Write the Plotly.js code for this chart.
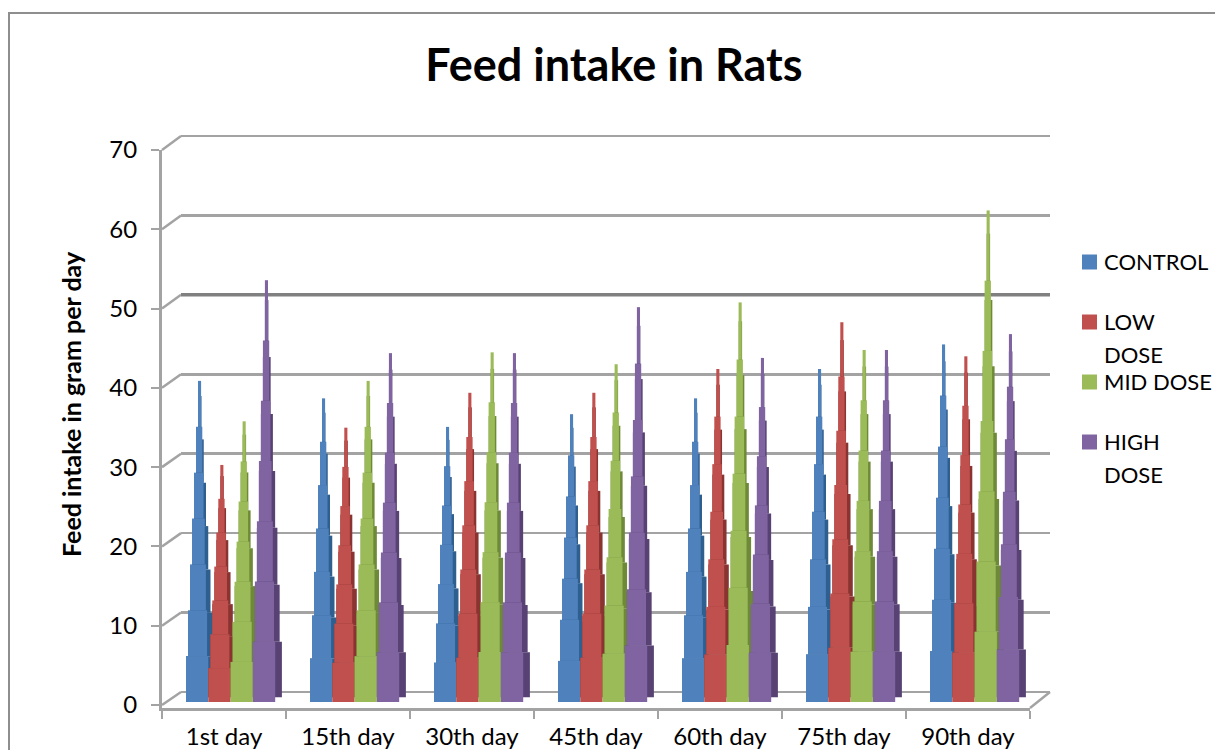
<!DOCTYPE html>
<html>
<head>
<meta charset="utf-8">
<title>Feed intake in Rats</title>
<script src="https://cdn.plot.ly/plotly-3.0.1.min.js"></script>
<style>html,body{margin:0;padding:0;background:#fff}#chart{width:1215px;height:750px}</style>
</head>
<body>
<div id="chart"></div>
<script>
// Feed intake, gram per day
const days = ['1st day','15th day','30th day','45th day','60th day','75th day','90th day'];
const control  = [40.5, 38.3, 34.7, 36.3, 38.3, 42.0, 45.1];
const lowDose  = [29.9, 34.6, 39.0, 39.0, 42.0, 47.9, 43.6];
const midDose  = [35.4, 40.5, 44.1, 42.6, 50.4, 44.4, 62.0];
const highDose = [53.2, 44.0, 44.0, 49.8, 43.4, 44.4, 46.4];

const seriesNames = ['CONTROL','LOW DOSE','MID DOSE','HIGH DOSE'];
const seriesValues = [control, lowDose, midDose, highDose];
const frontColors = ['#4F81BD','#C0504D','#9BBB59','#8064A2'];
const sideColors  = ['#2F5F8F','#8A3432','#6E8A38','#574273'];

const W = 1215, H = 750;
const xd = px => px / W;
const yd = py => 1 - py / H;

// Pixel geometry of the pseudo-3D box
const FRONT_LEFT = 162, FRONT_RIGHT = 1030, FRONT_ZERO = 705, FRONT_BOTTOM = 708, FRONT_TOP = 150;
const BACK_LEFT = 181, BACK_RIGHT = 1050, BACK_ZERO = 692, BACK_TOP = 136;
const BAR_ZERO = 702;
const PX_PER_UNIT = (FRONT_ZERO - FRONT_TOP) / 70;
const BACK_PX_PER_UNIT = (BACK_ZERO - BACK_TOP) / 70;
const CAT_PX = (FRONT_RIGHT - FRONT_LEFT) / days.length;

// Stepped pyramid profile, in pixels from each bar's left edge
const STEPS = 7;
const SERIES_START = 24, SERIES_PITCH = 22.3;
const frontLeft  = k => 2 * k;
const frontRight = k => 22.3 - 1.2 * k;
const sideRight  = k => 29 - 2.25 * k;
const sideLevel  = k => k === 0 ? 0 : 1 / STEPS + (k - 1) * 0.135;

function stepTraces(values, s) {
  const front = {x: [], y: [], base: [], width: [], offset: []};
  const side  = {x: [], y: [], base: [], width: [], offset: []};
  days.forEach((day, c) => {
    const barLeft = SERIES_START + s * SERIES_PITCH - CAT_PX / 2;
    for (let k = 0; k < STEPS; k++) {
      front.x.push(day);
      front.base.push(values[c] * k / STEPS);
      front.y.push(values[c] / STEPS);
      front.offset.push((barLeft + frontLeft(k)) / CAT_PX);
      front.width.push((frontRight(k) - frontLeft(k)) / CAT_PX);

      const lo = k === 0 ? 0.6 : values[c] * sideLevel(k);
      const hi = values[c] * sideLevel(k + 1);
      side.x.push(day);
      side.base.push(lo);
      side.y.push(hi - lo);
      side.offset.push((barLeft + frontLeft(k)) / CAT_PX);
      side.width.push((sideRight(k) - frontLeft(k)) / CAT_PX);
    }
  });
  const common = {type: 'bar', xaxis: 'x2', yaxis: 'y3', name: seriesNames[s], showlegend: false, hoverinfo: 'skip'};
  return [
    Object.assign({}, common, side,  {marker: {color: sideColors[s],  line: {width: 0}}}),
    Object.assign({}, common, front, {marker: {color: frontColors[s], line: {width: 0}}})
  ];
}

const traces = [
  // the heavier 50 line on the back wall, which also creates the wall subplot
  {type: 'scatter', mode: 'lines', x: [0, 1], y: [50, 50], xaxis: 'x', yaxis: 'y', showlegend: false, hoverinfo: 'skip',
   line: {color: '#808080', width: 3.5}},
  // empty carrier for the front subplot
  {type: 'scatter', mode: 'none', x: days, y: days.map(() => 0), xaxis: 'x2', yaxis: 'y2', showlegend: false, hoverinfo: 'skip'}
];
seriesValues.forEach((v, s) => traces.push(...stepTraces(v, s)));

const GREY = '#A3A3A3';
const shapes = [];
const annotations = [];

// Chart frame, open on the right
shapes.push({type: 'path', xref: 'paper', yref: 'paper',
  path: `M ${xd(W)} ${yd(13)} L ${xd(9)} ${yd(13)} L ${xd(9)} ${yd(H)}`,
  line: {color: '#8E8E8E', width: 2}});

// Side wall connectors from the value axis to the back wall
for (let v = 0; v <= 70; v += 10) {
  shapes.push({type: 'line', xref: 'paper', yref: 'paper', layer: 'below',
    x0: xd(FRONT_LEFT), y0: yd(FRONT_ZERO - v * PX_PER_UNIT),
    x1: xd(BACK_LEFT),  y1: yd(BACK_ZERO - v * BACK_PX_PER_UNIT),
    line: {color: GREY, width: 2.5}});
}
// Right edge of the floor
shapes.push({type: 'line', xref: 'paper', yref: 'paper', layer: 'below',
  x0: xd(FRONT_RIGHT), y0: yd(FRONT_BOTTOM), x1: xd(BACK_RIGHT), y1: yd(BACK_ZERO),
  line: {color: GREY, width: 2.5}});

const FONT = 'Lato, "Open Sans", sans-serif';

// Value axis caption
annotations.push({xref: 'paper', yref: 'paper', x: xd(71), y: yd(404), xanchor: 'center', yanchor: 'middle',
  showarrow: false, textangle: -90, text: 'Feed intake in gram per day',
  font: {family: FONT, size: 25, weight: 700, color: '#000'}});

// Key
const keyRows = [
  {y: 262, lines: ['CONTROL']},
  {y: 322, lines: ['LOW', 'DOSE']},
  {y: 382, lines: ['MID DOSE']},
  {y: 442, lines: ['HIGH', 'DOSE']}
];
keyRows.forEach((row, s) => {
  shapes.push({type: 'rect', xref: 'paper', yref: 'paper',
    x0: xd(1082), x1: xd(1097), y0: yd(row.y + 7.5), y1: yd(row.y - 7.5),
    fillcolor: frontColors[s], line: {width: 0}});
  row.lines.forEach((text, i) => annotations.push({
    xref: 'paper', yref: 'paper', x: xd(1102), y: yd(row.y - 0.5 + i * 33),
    xanchor: 'left', yanchor: 'middle', showarrow: false, text,
    font: {family: FONT, size: 22, color: '#000'}
  }));
});

const layout = {
  width: W, height: H,
  margin: {l: 0, r: 0, t: 0, b: 0, pad: 0},
  paper_bgcolor: '#fff', plot_bgcolor: 'rgba(0,0,0,0)',
  showlegend: false,
  barmode: 'overlay',
  title: {text: 'Feed intake in Rats', x: xd(614), xanchor: 'center', xref: 'paper',
          y: yd(65), yanchor: 'middle', yref: 'paper',
          font: {family: FONT, size: 45, weight: 700, color: '#000'}},
  // back wall, padded by one value unit so the 0 and 70 lines are kept
  xaxis: {domain: [xd(BACK_LEFT), xd(BACK_RIGHT)], range: [0, 1], anchor: 'y', showgrid: false,
          zeroline: false, showline: false, ticks: '', showticklabels: false, fixedrange: true},
  yaxis: {domain: [yd(BACK_ZERO + BACK_PX_PER_UNIT), yd(BACK_TOP - BACK_PX_PER_UNIT)], range: [-1, 71],
          tick0: 0, dtick: 10, anchor: 'x',
          showgrid: true, gridcolor: GREY, gridwidth: 2.5, zeroline: false, showline: false,
          ticks: '', showticklabels: false, fixedrange: true},
  // front axes carrying the ticks and labels
  xaxis2: {domain: [xd(FRONT_LEFT), xd(FRONT_RIGHT)], type: 'category', categoryorder: 'array',
           categoryarray: days, range: [-0.5, days.length - 0.5], anchor: 'y2', tickson: 'boundaries',
           ticks: 'outside', ticklen: 8, tickwidth: 2, tickcolor: GREY, showgrid: false, zeroline: false,
           showline: true, linecolor: GREY, linewidth: 3,
           tickfont: {family: FONT, size: 24, color: '#000'}, ticklabelstandoff: 5, fixedrange: true},
  yaxis2: {domain: [yd(FRONT_BOTTOM), yd(FRONT_TOP)],
           range: [-(FRONT_BOTTOM - FRONT_ZERO) / PX_PER_UNIT, 70], tick0: 0, dtick: 10, anchor: 'x2',
           ticks: 'outside', ticklen: 8, tickwidth: 2, tickcolor: GREY, showgrid: false, zeroline: false,
           showline: true, linecolor: GREY, linewidth: 3,
           tickfont: {family: FONT, size: 24, color: '#000'}, ticklabelstandoff: 9, fixedrange: true},
  // scale for the bars, whose feet sit slightly behind the axis line
  yaxis3: {overlaying: 'y2', anchor: 'x2', visible: false, fixedrange: true,
           range: [-(FRONT_BOTTOM - BAR_ZERO) / PX_PER_UNIT, (BAR_ZERO - FRONT_TOP) / PX_PER_UNIT]},
  shapes, annotations
};

Plotly.newPlot('chart', traces, layout, {displayModeBar: false, staticPlot: true});
</script>
</body>
</html>
